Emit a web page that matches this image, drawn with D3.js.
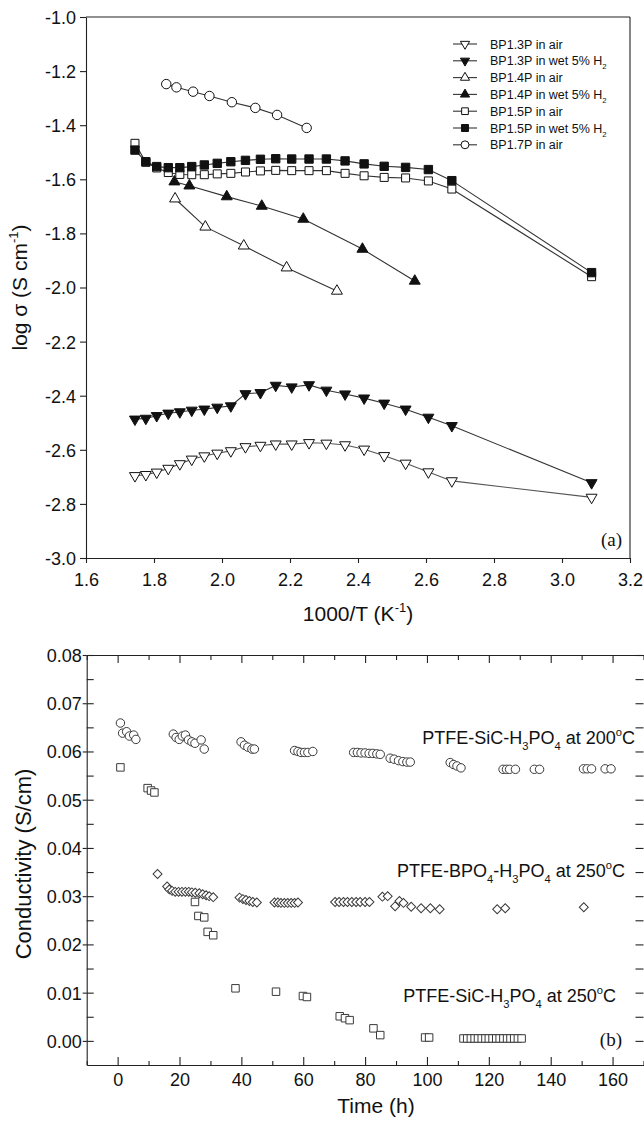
<!DOCTYPE html>
<html>
<head>
<meta charset="utf-8">
<script src="https://cdn.jsdelivr.net/npm/d3@7"></script>
<style>
  body { margin: 0; background: #fff; }
  svg { display: block; }
</style>
</head>
<body>
<svg id="fig" width="644" height="1121"></svg>
<script>
// ---------- Panel (a): log conductivity vs 1000/T ----------
const invT = [1.744, 1.776, 1.808, 1.842, 1.876, 1.911, 1.948, 1.986, 2.026, 2.069, 2.113,
              2.158, 2.205, 2.256, 2.307, 2.362, 2.418, 2.477, 2.540, 2.607, 2.676, 3.087];
const bp13Air = [-2.696, -2.692, -2.683, -2.669, -2.652, -2.635, -2.623, -2.613, -2.604, -2.589, -2.584,
                 -2.579, -2.579, -2.574, -2.576, -2.582, -2.598, -2.622, -2.650, -2.682, -2.715, -2.776];
const bp13Wet = [-2.487, -2.484, -2.474, -2.465, -2.460, -2.454, -2.450, -2.443, -2.438, -2.393, -2.389,
                 -2.362, -2.368, -2.360, -2.380, -2.394, -2.409, -2.428, -2.450, -2.480, -2.511, -2.722];
const bp15Air = [-1.467, -1.537, -1.558, -1.575, -1.582, -1.583, -1.583, -1.580, -1.578, -1.573, -1.569,
                 -1.567, -1.568, -1.568, -1.568, -1.578, -1.587, -1.593, -1.595, -1.606, -1.636, -1.960];
const bp15Wet = [-1.492, -1.535, -1.553, -1.557, -1.557, -1.553, -1.547, -1.541, -1.535, -1.530, -1.526,
                 -1.524, -1.525, -1.525, -1.525, -1.532, -1.543, -1.552, -1.556, -1.564, -1.605, -1.945];
const bp14AirX = [1.862, 1.951, 2.064, 2.190, 2.338];
const bp14Air  = [-1.672, -1.776, -1.846, -1.927, -2.013];
const bp14WetX = [1.860, 1.904, 2.014, 2.117, 2.239, 2.413, 2.567];
const bp14Wet  = [-1.609, -1.624, -1.664, -1.699, -1.747, -1.858, -1.976];
const bp17AirX = [1.836, 1.866, 1.915, 1.963, 2.029, 2.098, 2.162, 2.249];
const bp17Air  = [-1.248, -1.260, -1.276, -1.292, -1.315, -1.336, -1.362, -1.410];

const xTicksA = [1.6, 1.8, 2.0, 2.2, 2.4, 2.6, 2.8, 3.0, 3.2];
const yTicksA = [-3.0, -2.8, -2.6, -2.4, -2.2, -2.0, -1.8, -1.6, -1.4, -1.2, -1.0];
const legendNames = ["BP1.3P in air", "BP1.3P in wet 5% H", "BP1.4P in air", "BP1.4P in wet 5% H",
                     "BP1.5P in air", "BP1.5P in wet 5% H", "BP1.7P in air"];

// ---------- Panel (b): conductivity vs time ----------
const sic200Time = [0.9, 1.6, 2.9, 3.8, 5.2, 5.9,
  18.0, 18.9, 19.9, 20.9, 21.9, 22.9, 24.0, 25.0, 27.0, 28.0,
  39.9, 41.0, 42.1, 43.4, 44.2,
  57.2, 58.3, 59.3, 60.4, 61.5, 63.1,
  76.3, 77.5, 78.7, 80.0, 81.3, 82.5, 83.8, 84.9,
  88.1, 89.4, 90.8, 92.2, 93.5, 94.6,
  107.5, 108.6, 109.7, 111.0,
  124.6, 125.7, 126.7, 128.6,
  134.7, 136.4,
  150.6, 151.8, 153.2, 157.6, 159.5];
const sic200Cond = [0.0659, 0.0638, 0.0641, 0.0632, 0.0634, 0.0625,
  0.0636, 0.0629, 0.0625, 0.0632, 0.0634, 0.0624, 0.0620, 0.0617, 0.0624, 0.0605,
  0.0620, 0.0613, 0.0609, 0.0605, 0.0605,
  0.0602, 0.0600, 0.0598, 0.0598, 0.0598, 0.0600,
  0.0598, 0.0598, 0.0597, 0.0597, 0.0596, 0.0596, 0.0595, 0.0594,
  0.0586, 0.0584, 0.0581, 0.0579, 0.0578, 0.0578,
  0.0577, 0.0573, 0.0570, 0.0566,
  0.0563, 0.0563, 0.0563, 0.0563,
  0.0563, 0.0563,
  0.0564, 0.0564, 0.0564, 0.0564, 0.0564];

const bpo4Time = [12.9,
  16.0, 16.7, 17.6, 18.6, 19.7, 20.8, 21.9, 23.0, 24.0, 25.1, 26.4, 27.5, 28.6, 29.6, 30.9,
  39.4, 40.5, 41.5, 42.6, 43.7, 45.0,
  50.7, 51.8, 52.8, 53.9, 55.0, 56.1, 57.2, 58.3,
  70.3, 71.6, 73.0, 74.3, 75.7, 77.1, 78.4, 80.0, 81.4,
  85.6, 87.3, 89.7, 91.1, 92.4, 94.9, 98.1, 101.1, 104.1,
  122.7, 125.3,
  150.7];
const bpo4Cond = [0.0346,
  0.0320, 0.0314, 0.0311, 0.0309, 0.0309, 0.0309, 0.0309, 0.0309, 0.0308, 0.0307, 0.0306, 0.0304, 0.0302, 0.0300, 0.0298,
  0.0297, 0.0294, 0.0292, 0.0290, 0.0288, 0.0287,
  0.0287, 0.0287, 0.0286, 0.0286, 0.0286, 0.0286, 0.0286, 0.0287,
  0.0288, 0.0288, 0.0288, 0.0288, 0.0288, 0.0288, 0.0288, 0.0288, 0.0288,
  0.0299, 0.0300, 0.0279, 0.0290, 0.0286, 0.0278, 0.0275, 0.0275, 0.0273,
  0.0273, 0.0275,
  0.0277];

const sic250Time = [0.9, 9.7, 10.8, 11.9, 25.0, 26.1, 28.0, 29.1, 30.9, 38.1, 51.2, 59.9, 61.2,
  71.8, 73.5, 75.0, 82.7, 84.9, 99.4, 100.7,
  111.8, 113.0, 114.2, 115.4, 116.5, 117.7, 118.9, 120.0, 121.2, 122.4, 123.5, 124.7, 125.9, 127.0, 128.2, 129.4, 130.6];
const sic250Cond = [0.0567, 0.0524, 0.0519, 0.0515, 0.0288, 0.0259, 0.0256, 0.0226, 0.0219, 0.0109, 0.0102, 0.0093, 0.0091,
  0.0051, 0.0047, 0.0043, 0.0026, 0.0012, 0.0007, 0.0007,
  0.0005, 0.0005, 0.0005, 0.0005, 0.0005, 0.0005, 0.0005, 0.0005, 0.0005, 0.0005, 0.0005, 0.0005, 0.0005, 0.0005, 0.0005, 0.0005, 0.0005];

const xTicksB = [0, 20, 40, 60, 80, 100, 120, 140, 160];
const xMinorB = [-10, 0, 10, 20, 30, 40, 50, 60, 70, 80, 90, 100, 110, 120, 130, 140, 150, 160, 170];
const yTicksB = [0.00, 0.01, 0.02, 0.03, 0.04, 0.05, 0.06, 0.07, 0.08];
const yMinorB = [-0.005, 0.0, 0.005, 0.01, 0.015, 0.02, 0.025, 0.03, 0.035, 0.04, 0.045, 0.05, 0.055,
                 0.06, 0.065, 0.07, 0.075, 0.08];

// ---------- helpers ----------
const SANS = "'Liberation Sans', Arial, Helvetica, sans-serif";
const SERIF = "'Liberation Serif', 'Times New Roman', serif";
const svg = d3.select("#fig");
svg.append("rect").attr("width", 644).attr("height", 1121).attr("fill", "#fff");

// text made of runs; each run may be normal, "sub" or "sup"
function richText(parent, x, y, runs, size, anchor) {
  const t = parent.append("text")
    .attr("x", x).attr("y", y)
    .attr("font-family", SANS).attr("font-size", size)
    .attr("text-anchor", anchor || "start").attr("fill", "#111");
  let shift = 0;
  runs.forEach(([str, kind]) => {
    const target = kind === "sub" ? size * 0.32 : kind === "sup" ? -size * 0.42 : 0;
    const ts = t.append("tspan").text(str).attr("dy", target - shift);
    if (kind) ts.attr("font-size", size * 0.62);
    shift = target;
  });
  return t;
}

function styleAxis(g, size) {
  g.attr("font-family", SANS).attr("font-size", size);
  g.selectAll("text").attr("fill", "#111");
  g.selectAll("line, path").attr("stroke", "#222").attr("stroke-width", 1.1);
}

function symbolPath(type, size) {
  return d3.symbol().type(type).size(size)();
}

// ================= Panel (a) =================
const xA = d3.scaleLinear().domain([1.6, 3.2]).range([86, 630]);
const yA = d3.scaleLinear().domain([-3.0, -1.0]).range([558, 17]);
const gA = svg.append("g");

const axA_b = gA.append("g").attr("transform", `translate(0,${yA(-3.0)})`)
  .call(d3.axisBottom(xA).tickValues(xTicksA).tickFormat(d => d.toFixed(1))
        .tickSizeInner(5).tickSizeOuter(0).tickPadding(10));
styleAxis(axA_b, 18);
const axA_l = gA.append("g").attr("transform", `translate(${xA(1.6)},0)`)
  .call(d3.axisLeft(yA).tickValues(yTicksA).tickFormat(d => d.toFixed(1))
        .tickSizeInner(6).tickSizeOuter(0).tickPadding(4));
styleAxis(axA_l, 18);
axA_l.selectAll("text").attr("dy", "0.36em");
// top and right frame
gA.append("line").attr("x1", xA(1.6)).attr("x2", xA(3.2)).attr("y1", yA(-1.0)).attr("y2", yA(-1.0))
  .attr("stroke", "#222").attr("stroke-width", 1.1);
gA.append("line").attr("x1", xA(3.2)).attr("x2", xA(3.2)).attr("y1", yA(-1.0)).attr("y2", yA(-3.0))
  .attr("stroke", "#222").attr("stroke-width", 1.1);

const seriesA = [
  { xs: invT,     ys: bp13Air, type: d3.symbolTriangle, size: 52, fill: "#fff", rot: 180, line: "#555" },
  { xs: invT,     ys: bp13Wet, type: d3.symbolTriangle, size: 52, fill: "#111", rot: 180, line: "#333" },
  { xs: bp14AirX, ys: bp14Air, type: d3.symbolTriangle, size: 52, fill: "#fff", rot: 0,   line: "#333" },
  { xs: bp14WetX, ys: bp14Wet, type: d3.symbolTriangle, size: 52, fill: "#111", rot: 0,   line: "#333" },
  { xs: invT,     ys: bp15Air, type: d3.symbolSquare,   size: 64, fill: "#fff", rot: 0,   line: "#333" },
  { xs: invT,     ys: bp15Wet, type: d3.symbolSquare,   size: 70, fill: "#111", rot: 0,   line: "#333" },
  { xs: bp17AirX, ys: bp17Air, type: d3.symbolCircle,   size: 70, fill: "#fff", rot: 0,   line: "#333" }
];

const lineA = d3.line().x(d => xA(d[0])).y(d => yA(d[1]));
seriesA.forEach(s => {
  const pts = s.xs.map((x, i) => [x, s.ys[i]]);
  gA.append("path").attr("d", lineA(pts)).attr("fill", "none")
    .attr("stroke", s.line).attr("stroke-width", 1.1);
  gA.append("g").selectAll("path").data(pts).join("path")
    .attr("d", symbolPath(s.type, s.size))
    .attr("transform", d => `translate(${xA(d[0])},${yA(d[1])}) rotate(${s.rot})`)
    .attr("fill", s.fill).attr("stroke", "#111").attr("stroke-width", 1);
});

// legend
const legA = gA.append("g");
seriesA.forEach((s, i) => {
  const y = 44 + i * 16.8;
  legA.append("line").attr("x1", 453).attr("x2", 477).attr("y1", y).attr("y2", y)
    .attr("stroke", "#333").attr("stroke-width", 1.1);
  legA.append("path").attr("d", symbolPath(s.type, s.size * 0.7))
    .attr("transform", `translate(465,${y}) rotate(${s.rot})`)
    .attr("fill", s.fill).attr("stroke", "#111").attr("stroke-width", 1);
  const name = legendNames[i];
  const runs = name.endsWith(" H") ? [[name], ["2", "sub"]] : [[name]];
  richText(legA, 490, y + 4.5, runs, 12.5, "start");
});

// axis titles
richText(gA, xA(2.4), 621, [["1000/T (K"], ["-1", "sup"], [")"]], 21, "middle");
richText(gA, 0, 0, [["log \u03c3 (S cm"], ["-1", "sup"], [")"]], 21, "middle")
  .attr("transform", `translate(27,${yA(-2.0)}) rotate(-90)`);
gA.append("text").attr("x", 622).attr("y", 546).attr("text-anchor", "end")
  .attr("font-family", SERIF).attr("font-size", 19).attr("fill", "#111").text("(a)");

// ================= Panel (b) =================
const xB = d3.scaleLinear().domain([-10, 170]).range([86.7, 643.5]);
const yB = d3.scaleLinear().domain([-0.005, 0.08]).range([1065, 655]);
const gB = svg.append("g");

// bottom axis: labelled majors, short minors, all pointing inward
const axB_b = gB.append("g").attr("transform", `translate(0,${yB(-0.005)})`)
  .call(d3.axisBottom(xB).tickValues(xTicksB).tickFormat(d3.format("d"))
        .tickSizeInner(-8).tickSizeOuter(0).tickPadding(8));
styleAxis(axB_b, 18);
const axB_bm = gB.append("g").attr("transform", `translate(0,${yB(-0.005)})`)
  .call(d3.axisBottom(xB).tickValues(xMinorB.filter(v => v % 20 !== 0)).tickFormat("")
        .tickSizeInner(-4).tickSizeOuter(0));
styleAxis(axB_bm, 18);
axB_bm.select(".domain").remove();

// top axis: ticks only
const axB_t = gB.append("g").attr("transform", `translate(0,${yB(0.08)})`)
  .call(d3.axisTop(xB).tickValues(xMinorB.filter(v => v % 20 === 0)).tickFormat("")
        .tickSizeInner(-8).tickSizeOuter(0));
styleAxis(axB_t, 18);
const axB_tm = gB.append("g").attr("transform", `translate(0,${yB(0.08)})`)
  .call(d3.axisTop(xB).tickValues(xMinorB.filter(v => v % 20 !== 0)).tickFormat("")
        .tickSizeInner(-5).tickSizeOuter(0));
styleAxis(axB_tm, 18);
axB_tm.select(".domain").remove();

// left axis: labels with short outer ticks, inner ticks every 0.005
const axB_l = gB.append("g").attr("transform", `translate(${xB(-10)},0)`)
  .call(d3.axisLeft(yB).tickValues(yTicksB).tickFormat(d => d.toFixed(2))
        .tickSizeInner(4).tickSizeOuter(0).tickPadding(1));
styleAxis(axB_l, 18);
axB_l.selectAll("text").attr("dy", "0.36em");
const axB_li = gB.append("g").attr("transform", `translate(${xB(-10)},0)`)
  .call(d3.axisLeft(yB).tickValues(yMinorB.filter(v => v > -0.004)).tickFormat("")
        .tickSizeInner(-7).tickSizeOuter(0));
styleAxis(axB_li, 18);
axB_li.select(".domain").remove();

// right axis: inward ticks
const axB_r = gB.append("g").attr("transform", `translate(${xB(170)},0)`)
  .call(d3.axisRight(yB).tickValues(yMinorB.filter(v => v > -0.004)).tickFormat("")
        .tickSizeInner(-8).tickSizeOuter(0));
styleAxis(axB_r, 18);
axB_r.select(".domain").remove();

const seriesB = [
  { ts: sic200Time, vs: sic200Cond, type: d3.symbolCircle, size: 56, rot: 0 },
  { ts: bpo4Time,   vs: bpo4Cond,   type: d3.symbolSquare, size: 40, rot: 45 },
  { ts: sic250Time, vs: sic250Cond, type: d3.symbolSquare, size: 56, rot: 0 }
];
seriesB.forEach(s => {
  const pts = s.ts.map((t, i) => [t, s.vs[i]]);
  gB.append("g").selectAll("path").data(pts).join("path")
    .attr("d", symbolPath(s.type, s.size))
    .attr("transform", d => `translate(${xB(d[0])},${yB(d[1])}) rotate(${s.rot})`)
    .attr("fill", "#fff").attr("stroke", "#3a3a3a").attr("stroke-width", 1);
});

// series annotations
richText(gB, 635, 744, [["PTFE-SiC-H"], ["3", "sub"], ["PO"], ["4", "sub"], [" at 200"], ["o", "sup"], ["C"]], 18, "end");
richText(gB, 625, 877, [["PTFE-BPO"], ["4", "sub"], ["-H"], ["3", "sub"], ["PO"], ["4", "sub"], [" at 250"], ["o", "sup"], ["C"]], 18, "end");
richText(gB, 616, 1002, [["PTFE-SiC-H"], ["3", "sub"], ["PO"], ["4", "sub"], [" at 250"], ["o", "sup"], ["C"]], 18, "end");
gB.append("text").attr("x", 622).attr("y", 1046).attr("text-anchor", "end")
  .attr("font-family", SERIF).attr("font-size", 19).attr("fill", "#111").text("(b)");

// axis titles
richText(gB, 376, 1113, [["Time (h)"]], 21, "middle");
richText(gB, 0, 0, [["Conductivity (S/cm)"]], 22, "middle")
  .attr("transform", `translate(31,864) rotate(-90)`);
</script>
</body>
</html>
